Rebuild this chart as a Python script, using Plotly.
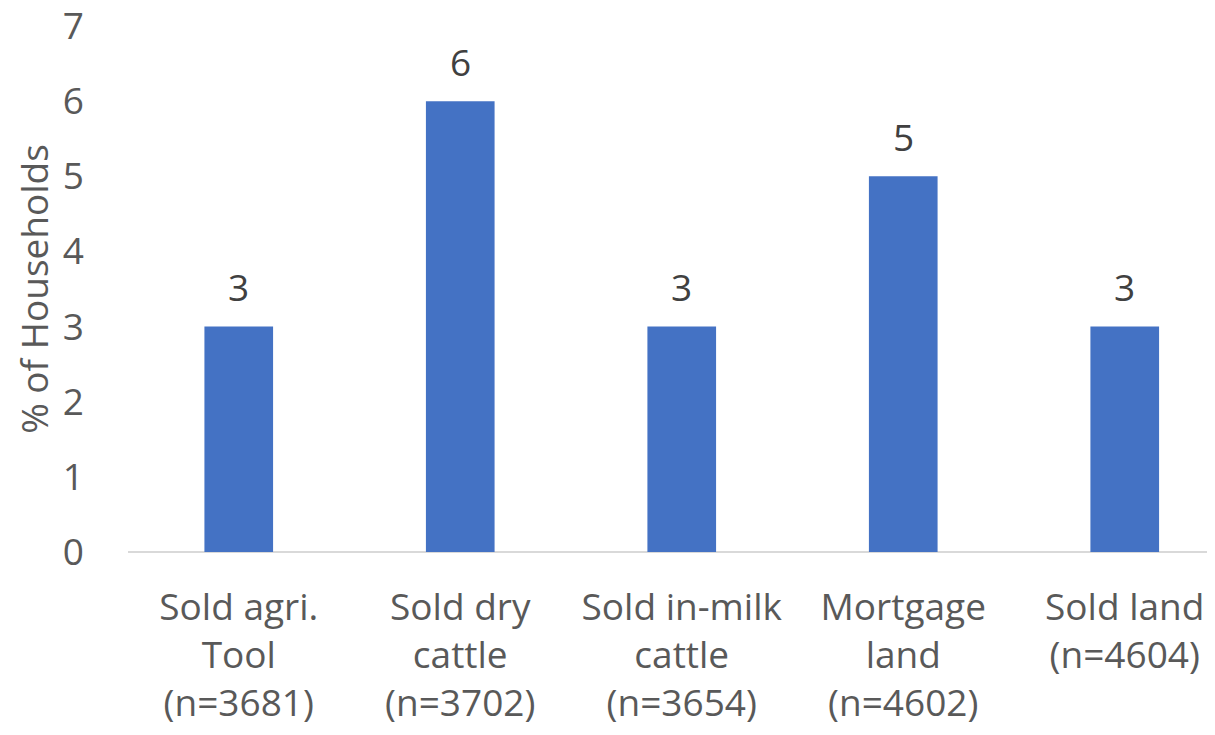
import plotly.graph_objects as go

categories = [
    "Sold agri.<br>Tool<br>(n=3681)",
    "Sold dry<br>cattle<br>(n=3702)",
    "Sold in-milk<br>cattle<br>(n=3654)",
    "Mortgage<br>land<br>(n=4602)",
    "Sold land<br>(n=4604)",
]
values = [3, 6, 3, 5, 3]
value_labels = ["3", "6", "3", "5", "3"]
y_ticks = [0, 1, 2, 3, 4, 5, 6, 7]

FONT = "Open Sans"
BAR = "#4472C4"
TICK_C = "#595959"
LABEL_C = "#404040"

fig = go.Figure()
fig.add_trace(go.Bar(
    x=categories, y=values, width=0.31,
    marker=dict(color=BAR, line=dict(width=0)),
    hoverinfo="skip",
))

for c, v, t in zip(categories, values, value_labels):
    fig.add_annotation(
        x=c, y=v, text=t, showarrow=False, yanchor="bottom",
        yshift=12.5, font=dict(family=FONT, size=37, color=LABEL_C),
    )

fig.update_layout(
    width=1215, height=735,
    margin=dict(l=120, r=0, t=18, b=190.5),
    paper_bgcolor="white", plot_bgcolor="white",
    showlegend=False,
    font=dict(family=FONT, size=37, color=TICK_C),
    bargap=0.69,
)
fig.update_xaxes(
    type="category", automargin=False,
    range=[-0.5, 4.4436],
    showline=False, showgrid=False, zeroline=False,
    ticks="", ticklabelstandoff=30,
    tickfont=dict(family=FONT, size=37, color=TICK_C),
)
fig.update_yaxes(
    automargin=False,
    range=[0, 7], tickvals=y_ticks,
    ticklabeloverflow="allow",
    showgrid=False, showline=False,
    zeroline=True, zerolinecolor="#D9D9D9", zerolinewidth=2,
    ticks="", ticklabelstandoff=43,
    tickfont=dict(family=FONT, size=37, color=TICK_C),
    title=dict(text="% of Households", standoff=12,
               font=dict(family=FONT, size=37, color=TICK_C)),
)

fig.write_html("out.html")
